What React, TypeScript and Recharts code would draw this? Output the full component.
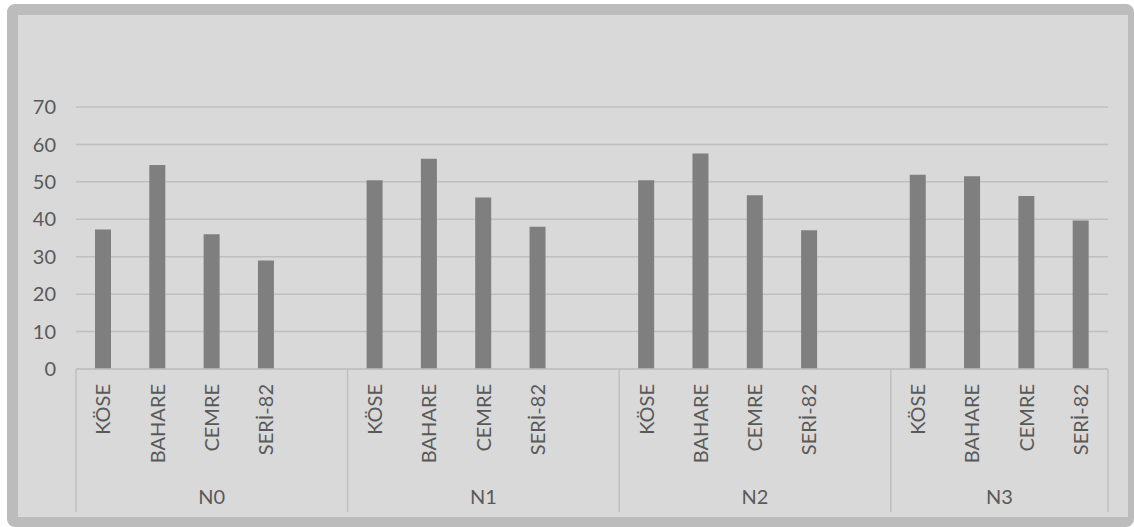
import { Bar, BarChart, CartesianGrid, XAxis, YAxis } from 'recharts';

const groups = ['N0', 'N1', 'N2', 'N3'];
const varieties = ['KÖSE', 'BAHARE', 'CEMRE', 'SERİ-82'];
const n0Values = [37.3, 54.5, 36.0, 29.0];
const n1Values = [50.4, 56.2, 45.8, 38.0];
const n2Values = [50.4, 57.6, 46.4, 37.1];
const n3Values = [51.9, 51.5, 46.2, 39.7];
const yTicks = [0, 10, 20, 30, 40, 50, 60, 70];

const W = 1134;
const H = 527;
const PLOT_LEFT = 76;
const PLOT_RIGHT = 1108;
const PLOT_TOP = 107;
const PLOT_BOTTOM = 369;
const TEXT = '#595959';
const LINE = '#bfbfbf';
const FONT = 'Lato, "Open Sans", sans-serif';

// Excel-style layout: each group followed by one empty slot (except the last)
const seriesByGroup = [n0Values, n1Values, n2Values, n3Values];
const rows: { name: string; group: string; value: number | null }[] = [];
groups.forEach((g, gi) => {
  varieties.forEach((v, vi) => {
    rows.push({ name: v, group: g, value: seriesByGroup[gi][vi] });
  });
  if (gi < groups.length - 1) rows.push({ name: '', group: g, value: null });
});

const slot = (PLOT_RIGHT - PLOT_LEFT) / rows.length;

function CategoryTick(props: any) {
  const { x, y, payload } = props;
  const i = payload.index;
  const row = rows[i];
  const isFirst = i === 0 || rows[i - 1].group !== row.group;
  const isLast = i === rows.length - 1;
  const span = rows.filter((r) => r.group === row.group).length;
  const groupStart = rows.findIndex((r) => r.group === row.group);
  return (
    <g>
      {isFirst && (
        <line x1={x - slot / 2} x2={x - slot / 2} y1={y} y2={y + 143} stroke={LINE} strokeWidth={1.5} />
      )}
      {isLast && (
        <line x1={x + slot / 2} x2={x + slot / 2} y1={y} y2={y + 143} stroke={LINE} strokeWidth={1.5} />
      )}
      {row.name && (
        <text
          transform={`translate(${x}, ${y + 15}) rotate(-90)`}
          textAnchor="end"
          dy="0.36em"
          fill={TEXT}
          fontSize={20}
          fontFamily={FONT}
        >
          {row.name}
        </text>
      )}
      {i === groupStart && (
        <text
          x={x - slot / 2 + (span * slot) / 2}
          y={y + 128}
          dy="0.36em"
          textAnchor="middle"
          fill={TEXT}
          fontSize={20}
          fontFamily={FONT}
        >
          {row.group}
        </text>
      )}
    </g>
  );
}

export default function App() {
  return (
    <div style={{ position: 'absolute', left: 0, top: 0, width: W, height: H, background: '#fff' }}>
      <div
        style={{
          position: 'absolute',
          left: 7,
          top: 4,
          width: W - 7,
          height: H - 4,
          boxSizing: 'border-box',
          border: '11px solid #bcbcbc',
          borderRight: '6px solid #bcbcbc',
          borderBottom: '10px solid #bcbcbc',
          borderRadius: 8,
          background: '#d9d9d9',
        }}
      />
      <div style={{ position: 'absolute', left: 0, top: 0 }}>
        <BarChart
          width={W}
          height={H}
          data={rows}
          margin={{ top: PLOT_TOP, right: W - PLOT_RIGHT, bottom: 0, left: 0 }}
          barCategoryGap={0}
        >
          <CartesianGrid vertical={false} stroke={LINE} strokeWidth={1.5} />
          <YAxis
            domain={[0, 70]}
            ticks={yTicks}
            width={PLOT_LEFT}
            axisLine={false}
            tickLine={false}
            tickSize={0}
            tickMargin={20}
            tick={{ fill: TEXT, fontSize: 20, fontFamily: FONT }}
          />
          <XAxis
            dataKey="name"
            height={H - PLOT_BOTTOM}
            interval={0}
            axisLine={{ stroke: LINE, strokeWidth: 1.5 }}
            tickLine={false}
            tickSize={0}
            tickMargin={0}
            tick={<CategoryTick />}
            allowDuplicatedCategory
          />
          <Bar dataKey="value" fill="#7f7f7f" barSize={16} isAnimationActive={false} />
        </BarChart>
      </div>
    </div>
  );
}
